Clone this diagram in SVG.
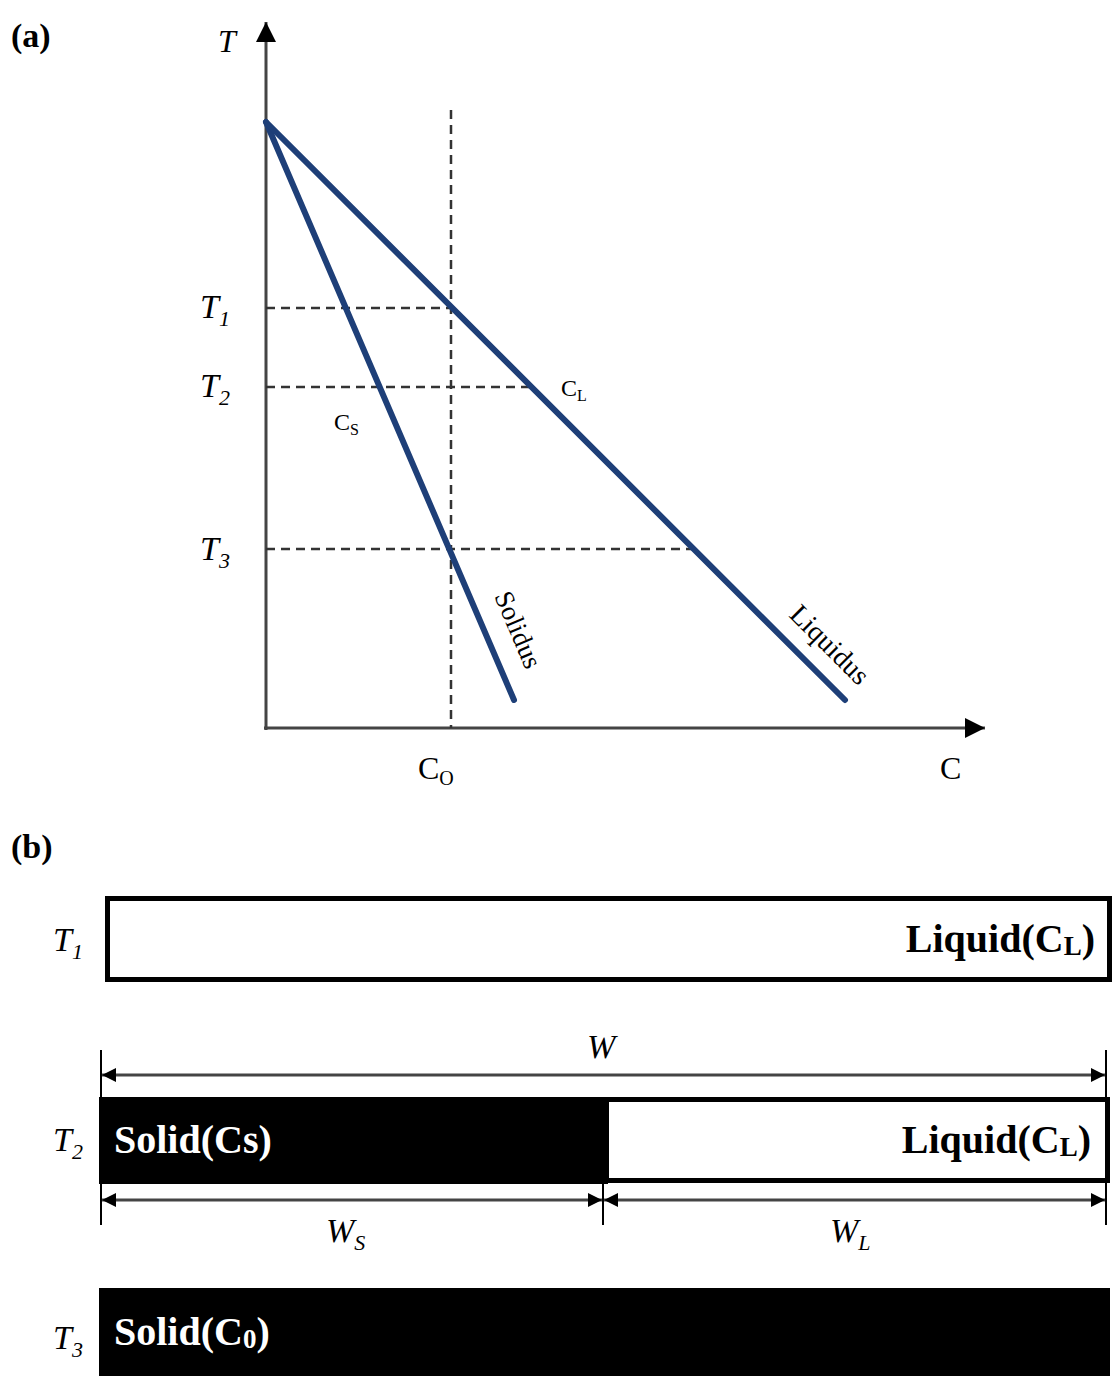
<svg xmlns="http://www.w3.org/2000/svg" width="1114" height="1388" viewBox="0 0 1114 1388">
<style>
.t{font-family:"Liberation Serif","Times New Roman",serif;fill:#000}
.it{font-style:italic}
.b{font-weight:bold}
.w{fill:#fff}
.ax{stroke:#444;stroke-width:3;fill:none}
.dash{stroke:#333;stroke-width:2.5;stroke-dasharray:9,6;fill:none}
.curve{stroke:#1e3f78;stroke-width:6;fill:none;stroke-linecap:round}
.dim{stroke:#444;stroke-width:3;fill:none}
.ext{stroke:#000;stroke-width:2;fill:none}
</style>
<defs>
<marker id="ah" viewBox="0 0 10 10" refX="10" refY="5" markerWidth="22" markerHeight="14" markerUnits="userSpaceOnUse" orient="auto-start-reverse">
<path d="M0,0 L10,5 L0,10 z" fill="#000"/>
</marker>
<marker id="axh" viewBox="0 0 10 10" refX="10" refY="5" markerWidth="32" markerHeight="20" markerUnits="userSpaceOnUse" orient="auto">
<path d="M0,0 L10,5 L0,10 z" fill="#000"/>
</marker>
</defs>
<rect width="1114" height="1388" fill="#fff"/>

<g id="panel-a-label"><text class="t b" x="11" y="47" font-size="34">(a)</text></g>

<g id="axes">
<line class="ax" x1="266" y1="730" x2="266" y2="22" marker-end="url(#axh)"/>
<line class="ax" x1="264" y1="728" x2="985" y2="728" marker-end="url(#axh)"/>
<text class="t it" x="218" y="52" font-size="32">T</text>
<text class="t" x="940" y="779" font-size="32">C</text>
<text class="t" x="418" y="779" font-size="32">C<tspan font-size="20" dy="6">O</tspan></text>
</g>

<g id="guides">
<line class="dash" x1="451" y1="110" x2="451" y2="728"/>
<line class="dash" x1="266" y1="308" x2="451" y2="308"/>
<line class="dash" x1="266" y1="387" x2="531" y2="387"/>
<line class="dash" x1="266" y1="549" x2="693" y2="549"/>
<text class="t it" x="200" y="318" font-size="34">T<tspan font-size="22" dy="8">1</tspan></text>
<text class="t it" x="200" y="397" font-size="34">T<tspan font-size="22" dy="8">2</tspan></text>
<text class="t it" x="200" y="560" font-size="34">T<tspan font-size="22" dy="8">3</tspan></text>
</g>

<g id="solidus">
<line class="curve" x1="266" y1="122" x2="514" y2="700"/>
<text class="t" transform="translate(494,596) rotate(66.8)" font-size="27">Solidus</text>
<text class="t" x="334" y="430" font-size="24">C<tspan font-size="16" dy="5">S</tspan></text>
</g>

<g id="liquidus">
<line class="curve" x1="266" y1="122" x2="845" y2="700"/>
<text class="t" transform="translate(788,616) rotate(45)" font-size="28">Liquidus</text>
<text class="t" x="561" y="396" font-size="24">C<tspan font-size="16" dy="5">L</tspan></text>
</g>

<g id="panel-b-label"><text class="t b" x="11" y="858" font-size="34">(b)</text></g>

<g id="row-T1">
<text class="t it" x="53" y="951" font-size="34">T<tspan font-size="22" dy="8">1</tspan></text>
<rect x="107.5" y="898.5" width="1002" height="81" fill="#fff" stroke="#000" stroke-width="5"/>
<text class="t b" x="1095" y="952" font-size="40" text-anchor="end">Liquid(C<tspan font-size="27" dy="3">L</tspan><tspan dy="-3">)</tspan></text>
</g>

<g id="row-T2">
<text class="t it" x="53" y="1151" font-size="34">T<tspan font-size="22" dy="8">2</tspan></text>
<rect x="99" y="1097" width="509" height="87" fill="#000"/>
<rect x="606.5" y="1099.5" width="501" height="81" fill="#fff" stroke="#000" stroke-width="5"/>
<text class="t b w" x="114" y="1153" font-size="40">Solid(Cs)</text>
<text class="t b" x="1091" y="1153" font-size="40" text-anchor="end">Liquid(C<tspan font-size="27" dy="3">L</tspan><tspan dy="-3">)</tspan></text>
</g>

<g id="row-T3">
<text class="t it" x="53" y="1349" font-size="34">T<tspan font-size="22" dy="8">3</tspan></text>
<rect x="99" y="1288" width="1011" height="88" fill="#000"/>
<text class="t b w" x="114" y="1345" font-size="40">Solid(C<tspan font-size="27" dy="3">0</tspan><tspan dy="-3">)</tspan></text>
</g>

<g id="connectors">
<line class="ext" x1="101" y1="1050" x2="101" y2="1225"/>
<line class="ext" x1="1106" y1="1050" x2="1106" y2="1225"/>
<line class="ext" x1="603" y1="1184" x2="603" y2="1225"/>
<line class="dim" x1="102" y1="1075" x2="1105" y2="1075" marker-start="url(#ah)" marker-end="url(#ah)"/>
<line class="dim" x1="102" y1="1200" x2="602" y2="1200" marker-start="url(#ah)" marker-end="url(#ah)"/>
<line class="dim" x1="604" y1="1200" x2="1105" y2="1200" marker-start="url(#ah)" marker-end="url(#ah)"/>
<text class="t it" x="587" y="1058" font-size="34">W</text>
<text class="t it" x="326" y="1242" font-size="34">W<tspan font-size="22" dy="8">S</tspan></text>
<text class="t it" x="830" y="1242" font-size="34">W<tspan font-size="22" dy="8">L</tspan></text>
</g>
</svg>
